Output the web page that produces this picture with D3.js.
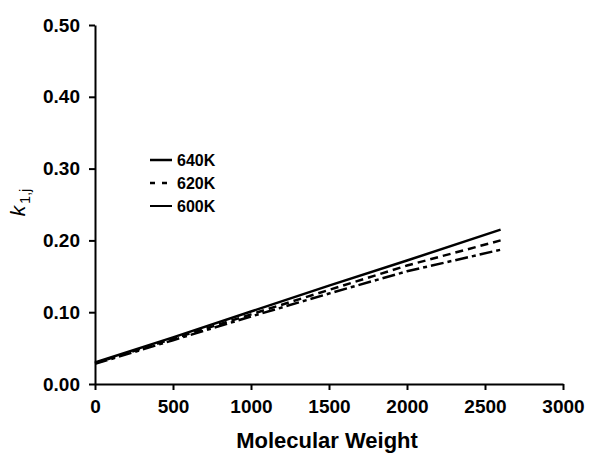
<!DOCTYPE html>
<html>
<head>
<meta charset="utf-8">
<script src="https://cdn.jsdelivr.net/npm/d3@7"></script>
<style>
  body { margin: 0; background: #fff; }
  text { font-family: "Liberation Sans", Arial, sans-serif; }
</style>
</head>
<body>
<div id="chart"></div>
<script>
// values
var molWeight = [0, 500, 1000, 1500, 2000, 2600];
var k640 = [0.030, 0.065, 0.101, 0.137, 0.172, 0.215];
var k620 = [0.029, 0.063, 0.097, 0.131, 0.165, 0.200];
var k600 = [0.028, 0.061, 0.094, 0.126, 0.157, 0.187];
var seriesNames = ["640K", "620K", "600K"];
var xTicks = [0, 500, 1000, 1500, 2000, 2500, 3000];
var yTicks = [0.00, 0.10, 0.20, 0.30, 0.40, 0.50];

var W = 589, H = 454;
var margin = {top: 25, right: 26, bottom: 70, left: 95};
var width = W - margin.left - margin.right,
    height = H - margin.top - margin.bottom;

var svg = d3.select("#chart").append("svg")
    .attr("width", W)
    .attr("height", H)
  .append("g")
    .attr("transform", "translate(" + margin.left + "," + margin.top + ")");

var x = d3.scaleLinear().domain([0, 3000]).range([0, width]);
var y = d3.scaleLinear().domain([0, 0.5]).range([height, 0]);

// axes
var xAxis = svg.append("g")
    .attr("transform", "translate(0," + height + ")")
    .call(d3.axisBottom(x).tickValues(xTicks).tickFormat(d3.format("d"))
      .tickSize(6).tickSizeOuter(0).tickPadding(10));
var yAxis = svg.append("g")
    .call(d3.axisLeft(y).tickValues(yTicks).tickFormat(d3.format(".2f"))
      .tickSize(6).tickSizeOuter(0).tickPadding(9));

[xAxis, yAxis].forEach(function(a) {
  a.select(".domain").attr("stroke", "#000").attr("stroke-width", 2);
  a.selectAll(".tick line").attr("stroke", "#000").attr("stroke-width", 2);
  a.selectAll(".tick text")
    .style("font-family", "'Liberation Sans', Arial, sans-serif")
    .style("font-size", "19px")
    .style("font-weight", "bold")
    .attr("fill", "#000");
});

// lines
var styles = [
  {data: k640, dash: null},
  {data: k620, dash: "8,5"},
  {data: k600, dash: "13,4,4,4"}
];
var line = d3.line()
    .x(function(d, i) { return x(molWeight[i]); })
    .y(function(d) { return y(d); });

styles.forEach(function(s) {
  svg.append("path")
    .datum(s.data)
    .attr("d", line)
    .attr("fill", "none")
    .attr("stroke", "#000")
    .attr("stroke-width", 2.5)
    .attr("stroke-dasharray", s.dash);
});

// legend
var legendDash = [null, "5,7", null];
var legend = svg.append("g").attr("transform", "translate(55,135)");
seriesNames.forEach(function(name, i) {
  var g = legend.append("g").attr("transform", "translate(0," + (i * 23) + ")");
  g.append("line")
    .attr("x1", 0).attr("x2", 22)
    .attr("y1", 0).attr("y2", 0)
    .attr("stroke", "#000")
    .attr("stroke-width", i == 2 ? 2 : 2.5)
    .attr("stroke-dasharray", legendDash[i]);
  g.append("text")
    .attr("x", 27).attr("y", 6)
    .style("font-size", "16px")
    .style("font-weight", "bold")
    .text(name);
});

// axis titles
svg.append("text")
    .attr("x", width / 2 - 2)
    .attr("y", height + 64)
    .attr("text-anchor", "middle")
    .style("font-size", "22px")
    .style("font-weight", "bold")
    .text("Molecular Weight");

var yl = svg.append("text")
    .attr("transform", "translate(-70," + (height / 2 - 2) + ") rotate(-90)")
    .attr("text-anchor", "middle");
yl.append("tspan").style("font-size", "21px").style("font-style", "italic").text("k");
yl.append("tspan").attr("dy", 5).attr("dx", 2).style("font-size", "14px").text("1,j");
</script>
</body>
</html>
